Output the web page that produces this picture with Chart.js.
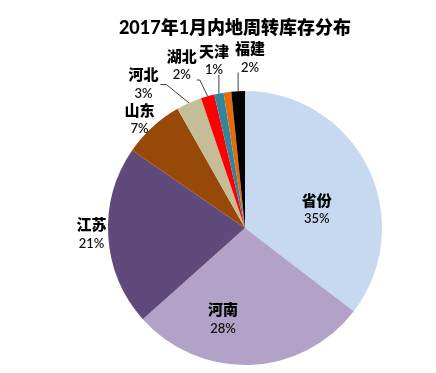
<!DOCTYPE html>
<html>
<head>
<meta charset="utf-8">
<script src="https://cdn.jsdelivr.net/npm/chart.js@4.4.0/dist/chart.umd.min.js"></script>
<style>
  html, body { margin: 0; padding: 0; background: #fff; }
  #wrap { width: 436px; height: 373px; }
</style>
</head>
<body>
<div id="wrap"><canvas id="pie"></canvas></div>
<script>
'use strict';

// data, clockwise from 12 o'clock
var regions = ['省份', '河南', '江苏', '山东', '河北', '湖北', '天津', '', '福建'];
var shares  = [35.4, 28.0, 21.2, 7.2, 3.0, 1.6, 1.1, 0.9, 1.6];
var colors  = ['#C6D9F1', '#B3A2C7', '#604A7B', '#984807', '#C4BD97',
               '#FF0000', '#31859C', '#E46C0A', '#000000'];
var title = '2017年1月内地周转库存分布';

// label placement: angle from top (deg, clockwise), distance in radii, leader side
var labelPlace = [
  {a: 76.0,  r: 0.54},
  {a: 193.5, r: 0.687},
  {a: 267.6, r: 1.121},
  {a: 315.7, r: 1.102},
  {a: 324.7, r: 1.283, line: 'right'},
  {a: 338.7, r: 1.269, line: 'bottom'},
  {a: 349.5, r: 1.240, line: 'bottom'},
  null,
  {a: 1.7,   r: 1.238, line: 'bottom'}
];

var FONT = "Lato, 'Noto Sans CJK SC', sans-serif";

var pieLabels = {
  id: 'pieLabels',
  afterDraw: function(chart) {
    var ctx = chart.ctx;
    var meta = chart.getDatasetMeta(0);

    ctx.save();
    ctx.fillStyle = '#000';
    ctx.font = '900 18px ' + FONT;
    ctx.textAlign = 'center';
    ctx.textBaseline = 'middle';
    ctx.fillText(title, 235, 28);

    meta.data.forEach(function(arc, i) {
      var place = labelPlace[i];
      if (!place) return;
      var p = arc.getProps(['x', 'y', 'startAngle', 'endAngle', 'outerRadius'], true);
      var R = p.outerRadius;
      var t = (place.a - 90) * Math.PI / 180;
      var cx = p.x + Math.cos(t) * place.r * R;
      var cy = p.y + Math.sin(t) * place.r * R;

      var name = regions[i];
      var pct = Math.round(shares[i]) + '%';
      ctx.font = '900 15px ' + FONT;
      var w1 = ctx.measureText(name).width;
      ctx.font = '600 13px ' + FONT;
      var w2 = ctx.measureText(pct).width;
      var bw = Math.max(w1, w2);

      ctx.fillStyle = '#000';
      ctx.font = '900 15px ' + FONT;
      ctx.fillText(name, cx, cy - 9);
      ctx.fillStyle = '#111';
      ctx.font = '600 13px ' + FONT;
      ctx.fillText(pct, cx, cy + 9);

      if (place.line) {
        var mid = (p.startAngle + p.endAngle) / 2;
        var tx = p.x + Math.cos(mid) * R;
        var ty = p.y + Math.sin(mid) * R;
        var left = cx - bw / 2, right = cx + bw / 2;
        var bottom = cy + 14;
        ctx.strokeStyle = '#404040';
        ctx.lineWidth = 1;
        ctx.beginPath();
        if (place.line === 'right') {
          ctx.moveTo(right + 2, cy);
          ctx.lineTo(right + 8, cy);
        } else {
          var sx = Math.min(Math.max(tx, left), right);
          ctx.moveTo(sx, bottom);
          if (sx !== tx && Math.abs(tx - sx) > 3) ctx.lineTo(sx + 3, bottom);
        }
        ctx.lineTo(tx, ty);
        ctx.stroke();
      }
    });
    ctx.restore();
  }
};

new Chart(document.getElementById('pie').getContext('2d'), {
  type: 'pie',
  data: {
    labels: regions,
    datasets: [{
      data: shares,
      backgroundColor: colors,
      borderWidth: 0
    }]
  },
  options: {
    responsive: true,
    maintainAspectRatio: false,
    animation: false,
    layout: { padding: { top: 91, bottom: 8, left: 108, right: 54 } },
    plugins: {
      legend: { display: false },
      tooltip: { enabled: false }
    }
  },
  plugins: [pieLabels]
});
</script>
</body>
</html>
